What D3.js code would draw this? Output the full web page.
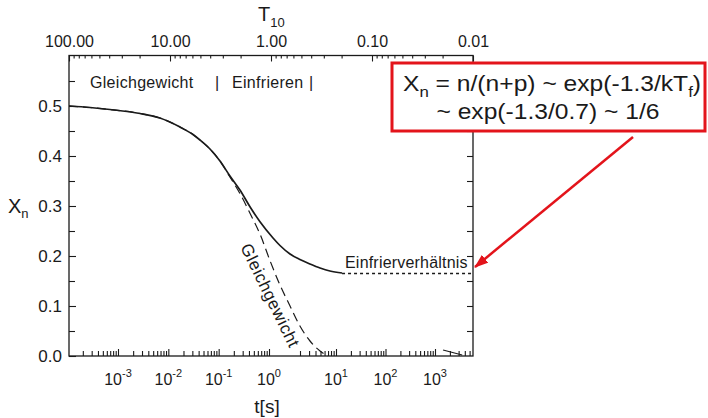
<!DOCTYPE html>
<html><head><meta charset="utf-8">
<script src="https://cdn.jsdelivr.net/npm/d3@7"></script>
<style>
body{margin:0;background:#fff}
svg{display:block}
text{font-family:"Liberation Sans",Arial,Helvetica,sans-serif;fill:#1a1a1a}
</style>
</head><body>
<svg id="c" width="708" height="418"></svg>
<script>
// ---------- data ----------
const topTickValues = [100, 10, 1, 0.1, 0.01];
const topTickLabels = ["100.00", "10.00", "1.00", "0.10", "0.01"];
const timeDecades = [-3, -2, -1, 0, 1, 2, 3];
const yTickValues = [0, 0.1, 0.2, 0.3, 0.4, 0.5];
const yTickLabels = ["0.0", "0.1", "0.2", "0.3", "0.4", "0.5"];

// solid curve (actual neutron fraction) vs. T10
const solidT = [100, 61.9, 39.3, 19.8, 12.6, 7.96, 5.92, 5.05, 4.02, 3.20, 2.55, 2.03, 1.61, 1.28, 0.955, 0.815, 0.648, 0.517, 0.411, 0.327, 0.261, 0.198];
const solidX = [0.500, 0.497, 0.493, 0.485, 0.476, 0.458, 0.443, 0.432, 0.414, 0.390, 0.360, 0.332, 0.298, 0.268, 0.236, 0.221, 0.204, 0.193, 0.184, 0.176, 0.170, 0.166];
// frozen ratio (dotted)
const frozenT = [0.198, 0.01];
const frozenX = [0.165, 0.165];
// equilibrium curve (dashed)
const eqT = [100, 61.9, 39.3, 19.8, 12.6, 7.96, 5.92, 5.05, 4.02, 3.20, 2.55, 2.03, 1.61, 1.28, 1.02, 0.815, 0.648, 0.517, 0.411, 0.327, 0.273];
const eqX = [0.500, 0.497, 0.493, 0.485, 0.476, 0.458, 0.443, 0.432, 0.414, 0.390, 0.358, 0.325, 0.285, 0.243, 0.190, 0.142, 0.100, 0.060, 0.030, 0.010, 0.0];
// small late-time segment near the bottom right
const tailT = [0.0198, 0.0128];
const tailX = [0.012, 0.002];

// ---------- layout ----------
const M = {left: 69, right: 473, top: 55.5, bottom: 356};
const svg = d3.select("#c");

const xTop = d3.scaleLog().domain([100, 0.01]).range([M.left, M.right]);
const y = d3.scaleLinear().domain([0, 0.6]).range([M.bottom, 56]);
const xTime = d3.scaleLog().domain([1e-3, 1, 2, 10, 1e3]).range([118, 269, 300, 336, 435]);

const ink = "#1a1a1a";

// ---------- frame ----------
svg.append("rect").attr("x", M.left).attr("y", M.top)
  .attr("width", M.right - M.left).attr("height", M.bottom - M.top)
  .attr("fill", "none").attr("stroke", ink).attr("stroke-width", 1.3);

function styleAxis(g) {
  g.select(".domain").remove();
  g.selectAll(".tick line").attr("stroke", ink).attr("stroke-width", 1.1);
  g.selectAll(".tick text").attr("fill", ink)
    .style("font-family", '"Liberation Sans",Arial,sans-serif');
}

// top axis (T10)
const topMinor = [];
for (let k = -2; k <= 1; k++) for (let m = 2; m <= 9; m++) topMinor.push(m * Math.pow(10, k));
svg.append("g").attr("transform", `translate(0,${M.top})`)
  .call(d3.axisTop(xTop).tickValues(topMinor).tickSize(-3).tickFormat(""))
  .call(styleAxis);
svg.append("g").attr("transform", `translate(0,${M.top})`)
  .call(d3.axisTop(xTop).tickValues(topTickValues).tickSize(-6).tickPadding(9)
    .tickFormat((d, i) => topTickLabels[i]))
  .call(styleAxis)
  .call(g => g.selectAll(".tick text").attr("font-size", 16));

// bottom axis (t[s])
const timeMinor = [];
for (let k = -5; k <= 3; k++) for (let m = 2; m <= 9; m++) {
  const v = m * Math.pow(10, k);
  const px = xTime(v);
  if (px > M.left + 1 && px < M.right - 1) timeMinor.push(v);
}
svg.append("g").attr("transform", `translate(0,${M.bottom})`)
  .call(d3.axisBottom(xTime).tickValues(timeMinor).tickSize(-5).tickFormat(""))
  .call(styleAxis);
svg.append("g").attr("transform", `translate(0,${M.bottom})`)
  .call(d3.axisBottom(xTime).tickValues(timeDecades.map(d => Math.pow(10, d))).tickSize(-7).tickFormat(""))
  .call(styleAxis);
const tl = svg.append("g").selectAll("text").data(timeDecades).join("text")
  .attr("x", d => xTime(Math.pow(10, d))).attr("y", 385)
  .attr("text-anchor", "middle").attr("font-size", 16);
tl.append("tspan").text("10");
tl.append("tspan").attr("dy", -8).attr("font-size", 11).text(d => String(d));

// left axis
const yMinor = [0.05, 0.15, 0.25, 0.35, 0.45, 0.55];
svg.append("g").attr("transform", `translate(${M.left},0)`)
  .call(d3.axisLeft(y).tickValues(yMinor).tickSize(-6).tickFormat(""))
  .call(styleAxis);
svg.append("g").attr("transform", `translate(${M.left},0)`)
  .call(d3.axisLeft(y).tickValues(yTickValues).tickSize(-7).tickPadding(7)
    .tickFormat((d, i) => yTickLabels[i]))
  .call(styleAxis)
  .call(g => g.selectAll(".tick text").attr("font-size", 17));
// right axis
const yRight = d3.range(1, 12).map(i => i * 0.05);
svg.append("g").attr("transform", `translate(${M.right},0)`)
  .call(d3.axisRight(y).tickValues(yRight).tickSize(-6).tickFormat(""))
  .call(styleAxis);

// ---------- curves ----------
const line = d3.line().x(d => xTop(d[0])).y(d => y(d[1])).curve(d3.curveMonotoneX);
const zip = (a, b) => a.map((v, i) => [v, b[i]]);

svg.append("path").datum(zip(eqT, eqX)).attr("d", line)
  .attr("fill", "none").attr("stroke", ink).attr("stroke-width", 1.2)
  .attr("stroke-dasharray", "9,5");
svg.append("path").datum(zip(solidT, solidX)).attr("d", line)
  .attr("fill", "none").attr("stroke", ink).attr("stroke-width", 1.7);
svg.append("path").datum(zip(frozenT, frozenX)).attr("d", line)
  .attr("fill", "none").attr("stroke", ink).attr("stroke-width", 1.3)
  .attr("stroke-dasharray", "3,3");
svg.append("path").datum(zip(tailT, tailX)).attr("d", line)
  .attr("fill", "none").attr("stroke", ink).attr("stroke-width", 1.2);

// ---------- axis titles ----------
const tt = svg.append("text").attr("x", 258).attr("y", 21).attr("font-size", 20);
tt.append("tspan").text("T");
tt.append("tspan").attr("dy", 6).attr("font-size", 13).text("10");

const xn = svg.append("text").attr("x", 8).attr("y", 213).attr("font-size", 20);
xn.append("tspan").text("X");
xn.append("tspan").attr("dy", 5).attr("font-size", 13).text("n");

svg.append("text").attr("x", 267).attr("y", 413).attr("text-anchor", "middle")
  .attr("font-size", 19).text("t[s]");

// ---------- in-plot labels ----------
const hdr = svg.append("g");
hdr.append("text").attr("x", 90).attr("y", 88).attr("font-size", 16).attr("letter-spacing", 0.3).text("Gleichgewicht");
hdr.append("text").attr("x", 215).attr("y", 88).attr("font-size", 16).text("|");
hdr.append("text").attr("x", 232).attr("y", 88).attr("font-size", 16).attr("letter-spacing", 0.3).text("Einfrieren");
hdr.append("text").attr("x", 309).attr("y", 88).attr("font-size", 16).text("|");

svg.append("text").attr("x", 345).attr("y", 268).attr("font-size", 16).attr("letter-spacing", 0.2).text("Einfrierverhältnis");

svg.append("text").attr("transform", "translate(240,247) rotate(64)")
  .attr("font-size", 17).attr("letter-spacing", 0.6).text("Gleichgewicht");

// ---------- annotation ----------
const red = "#e3141b";
svg.append("defs").append("marker").attr("id", "ah")
  .attr("viewBox", "0 0 14 10").attr("refX", 13).attr("refY", 5)
  .attr("markerWidth", 14).attr("markerHeight", 10)
  .attr("markerUnits", "userSpaceOnUse").attr("orient", "auto")
  .append("path").attr("d", "M0,0 L14,5 L0,10 Z").attr("fill", red);

svg.append("line").attr("x1", 633).attr("y1", 137)
  .attr("x2", xTop(0.01) + 2).attr("y2", y(0.178))
  .attr("stroke", red).attr("stroke-width", 2.5).attr("marker-end", "url(#ah)");

svg.append("rect").attr("x", 392).attr("y", 63).attr("width", 313).attr("height", 68)
  .attr("fill", "#fff").attr("stroke", red).attr("stroke-width", 3);

const l1 = svg.append("g").attr("transform", "translate(552,91) scale(1.12,1)")
  .append("text").attr("text-anchor", "middle").attr("font-size", 22);
l1.append("tspan").text("X");
l1.append("tspan").attr("dy", 6).attr("font-size", 15).text("n");
l1.append("tspan").attr("dy", -6).text(" = n/(n+p) ~ exp(-1.3/kT");
l1.append("tspan").attr("dy", 6).attr("font-size", 15).text("f");
l1.append("tspan").attr("dy", -6).text(")");

svg.append("g").attr("transform", "translate(548,119) scale(1.12,1)")
  .append("text").attr("text-anchor", "middle").attr("font-size", 22)
  .text("~ exp(-1.3/0.7) ~ 1/6");
</script>
</body></html>
